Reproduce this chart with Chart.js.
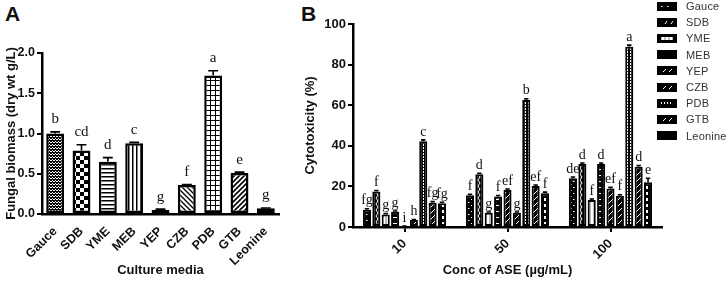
<!DOCTYPE html>
<html>
<head>
<meta charset="utf-8">
<script src="https://cdn.jsdelivr.net/npm/chart.js@4"></script>
<style>
body{margin:0;background:#fff;width:726px;height:282px;overflow:hidden;position:relative;font-family:"Liberation Sans",Arial,sans-serif;}
#wa{position:absolute;left:0;top:0;width:290px;height:282px;}
#wb{position:absolute;left:290px;top:0;width:436px;height:282px;}
.tag{position:absolute;font-weight:bold;font-size:21px;color:#111;}
#legend{position:absolute;left:657px;top:-2px;}
.row{display:flex;align-items:center;height:16.2px;font-size:11px;color:#333;letter-spacing:0.2px;}
.row canvas{margin-right:9px;}
</style>
</head>
<body>
<div class="tag" style="left:5px;top:2px;">A</div>
<div class="tag" style="left:301px;top:2px;">B</div>
<div id="wa"><canvas id="chartA"></canvas></div>
<div id="wb"><canvas id="chartB"></canvas></div>
<div id="legend"></div>
<script>
// panel A
var mediaA = ["Gauce","SDB","YME","MEB","YEP","CZB","PDB","GTB","Leonine"];
var biomass = [1.0, 0.79, 0.65, 0.88, 0.05, 0.36, 1.72, 0.51, 0.07];
var biomassErr = [0.02, 0.07, 0.05, 0.01, 0.01, 0.005, 0.06, 0.01, 0.005];
var biomassLetters = ["b","cd","d","c","g","f","a","e","g"];

// panel B
var conc = ["10","50","100"];
var cytoGauce = [8.5, 15.6, 24];
var cytoSDB = [17.5, 26, 31];
var cytoYME = [6.2, 7, 13.3];
var cytoMEB = [7.5, 15, 31];
var cytoYEP = [0.3, 18.2, 19];
var cytoCZB = [3.4, 7, 15.4];
var cytoPDB = [42.3, 62.6, 88.8];
var cytoGTB = [12, 20.2, 29.7];
var cytoLeonine = [11.7, 16.6, 22];
var errGauce = [0.5, 0.5, 0.6];
var errSDB = [0.5, 0.5, 0.5];
var errYME = [0.4, 0.4, 0.5];
var errMEB = [0.4, 0.5, 0.5];
var errYEP = [0.2, 0.5, 0.5];
var errCZB = [0.3, 0.4, 0.5];
var errPDB = [0.6, 0.6, 0.8];
var errGTB = [0.5, 0.5, 0.6];
var errLeonine = [0.5, 0.6, 2];
var letGauce = ["fg","f","de"];
var letSDB = ["f","d","d"];
var letYME = ["g","g","f"];
var letMEB = ["g","f","d"];
var letYEP = ["i","ef","ef"];
var letCZB = ["h","g","f"];
var letPDB = ["c","b","a"];
var letGTB = ["fg","ef","d"];
var letLeonine = ["fg","f","e"];

function makePattern(kind){
    var c = document.createElement("canvas");
    var s = 6;
    var g;
    if(kind=="fineCheck"){ s=3; }
    if(kind=="check"){ s=8; }
    if(kind=="hstripe" || kind=="vstripe"){ s=4; }
    if(kind=="grid"){ s=5; }
    if(kind=="diagDown" || kind=="diagUp"){ s=5; }
    if(kind=="diagUp2"){ s=7; }
    c.width = s; c.height = s;
    g = c.getContext("2d");
    var dark = kind.indexOf("B_")==0;
    g.fillStyle = dark ? "#000" : "#fff";
    g.fillRect(0,0,s,s);
    g.fillStyle = "#000";
    g.strokeStyle = "#000";
    switch(kind){
        case "fineCheck":
            g.fillRect(0,0,1,1); g.fillRect(2,0,1,1); g.fillRect(1,1,1,1); g.fillRect(0,2,1,1); g.fillRect(2,2,1,1);
            g.fillRect(1,2,1,1);
            break;
        case "check":
            g.fillRect(0,0,4,4); g.fillRect(4,4,4,4);
            break;
        case "hstripe":
            g.fillRect(0,0,s,1.5);
            break;
        case "vstripe":
            g.fillRect(0,0,1.5,s);
            break;
        case "dots":
            g.fillRect(0,0,2,2); g.fillRect(3,3,2,2);
            break;
        case "grid":
            g.fillRect(0,0,s,1); g.fillRect(0,0,1,s);
            break;
        case "diagDown":
            g.lineWidth = 1.3;
            g.beginPath(); g.moveTo(-1,-1); g.lineTo(s+1,s+1); g.moveTo(-1,s-1); g.lineTo(1,s+1); g.moveTo(s-1,-1); g.lineTo(s+1,1); g.stroke();
            break;
        case "diagUp":
        case "diagUp2":
            g.lineWidth = 1.6;
            g.beginPath(); g.moveTo(-1,s+1); g.lineTo(s+1,-1); g.moveTo(-1,1); g.lineTo(1,-1); g.moveTo(s-1,s+1); g.lineTo(s+1,s-1); g.stroke();
            break;
        default:
            // dark panel B fills, white marks on black
            g.fillStyle = "#fff";
            g.strokeStyle = "#fff";
            if(kind=="B_dots"){ g.fillRect(1,1,1.5,1); g.fillRect(4,4,1.5,1); }
            if(kind=="B_wave"){ g.lineWidth=1; g.beginPath(); g.moveTo(2,0); g.lineTo(4,3); g.lineTo(2,6); g.stroke(); }
            if(kind=="B_dash"){ g.fillRect(1,1,4,1); }
            if(kind=="B_diag"){ g.lineWidth=1; g.beginPath(); g.moveTo(0,6); g.lineTo(6,0); g.stroke(); }
            if(kind=="B_grid"){ g.fillRect(1,0,1,2); g.fillRect(4,0,1,2); g.fillRect(1,3,1,2); g.fillRect(4,3,1,2); }
            if(kind=="B_vdash"){ g.fillRect(2,0,2,3); }
    }
    return g.createPattern(c,"repeat");
}

var patA = ["fineCheck","check","hstripe","vstripe","dots","diagDown","grid","diagUp","diagUp2"].map(makePattern);

var black = "#000";
var fontBold = {family:"'Liberation Sans', Arial, sans-serif", weight:"bold"};

var errorBars = {
    id:"errorBars",
    afterDatasetsDraw: function(chart){
        var ctx = chart.ctx;
        var y = chart.scales.y;
        chart.data.datasets.forEach(function(ds, di){
            var meta = chart.getDatasetMeta(di);
            meta.data.forEach(function(bar, i){
                var v = ds.data[i], e = ds.errs[i];
                var yt = y.getPixelForValue(v+e);
                var w = Math.max(bar.width*0.55, 4);
                ctx.save();
                ctx.strokeStyle = black;
                ctx.lineWidth = 1.6;
                ctx.beginPath();
                ctx.moveTo(bar.x, bar.y); ctx.lineTo(bar.x, yt);
                ctx.moveTo(bar.x-w/2, yt); ctx.lineTo(bar.x+w/2, yt);
                ctx.stroke();
                ctx.fillStyle = "#111";
                ctx.font = ds.letterFont;
                ctx.textAlign = "center";
                ctx.textBaseline = "bottom";
                ctx.fillText(ds.letters[i], bar.x, yt - ds.letterGap);
                ctx.restore();
            });
        });
    }
};

function drawA(){
    var ctx = document.getElementById("chartA").getContext("2d");
    new Chart(ctx, {
        type:"bar",
        data:{
            labels: mediaA,
            datasets:[{
                data: biomass,
                errs: biomassErr,
                letters: biomassLetters,
                letterFont: "15px 'Liberation Serif', 'Times New Roman', serif",
                letterGap: 5,
                backgroundColor: patA,
                borderColor: black,
                borderWidth: 2.5,
                borderSkipped: false,
                categoryPercentage: 1,
                barPercentage: 0.68
            }]
        },
        options:{
            responsive:true,
            maintainAspectRatio:false,
            animation:false,
            layout:{padding:{top:53, right:11, left:0, bottom:0}},
            plugins:{legend:{display:false}, tooltip:{enabled:false}},
            scales:{
                x:{
                    grid:{display:false},
                    border:{color:black, width:2.5},
                    ticks:{color:"#111", font:Object.assign({size:12.5}, fontBold), minRotation:45, maxRotation:45, padding:2},
                    title:{display:true, text:"Culture media", color:"#111", font:Object.assign({size:13}, fontBold), padding:{top:2}},
                    afterFit:function(s){ s.height = 68; }
                },
                y:{
                    min:0, max:2.0,
                    grid:{drawOnChartArea:false, color:black, lineWidth:2, tickLength:5},
                    border:{color:black, width:2.5},
                    ticks:{stepSize:0.5, color:"#111", font:Object.assign({size:12.5}, fontBold), padding:2,
                        callback:function(v){ return v.toFixed(1); }},
                    title:{display:true, text:"Fungal biomass (dry wt g/L)", color:"#111", font:Object.assign({size:13}, fontBold), padding:{bottom:2}},
                    afterFit:function(s){ s.width = 42; }
                }
            }
        },
        plugins:[errorBars]
    });
}

var mediaB = ["Gauce","SDB","YME","MEB","YEP","CZB","PDB","GTB","Leonine"];
var valsB = [cytoGauce, cytoSDB, cytoYME, cytoMEB, cytoYEP, cytoCZB, cytoPDB, cytoGTB, cytoLeonine];
var errsB = [errGauce, errSDB, errYME, errMEB, errYEP, errCZB, errPDB, errGTB, errLeonine];
var letsB = [letGauce, letSDB, letYME, letMEB, letYEP, letCZB, letPDB, letGTB, letLeonine];
var patKindsB = ["B_dots","B_wave","light","B_dash","B_diag","B_diag","B_grid","B_diag","B_vdash"];

function fillB(kind){
    if(kind=="light"){
        var c = document.createElement("canvas"); c.width=4; c.height=4;
        var g = c.getContext("2d");
        g.fillStyle="#bbb"; g.fillRect(0,0,4,4);
        g.fillStyle="#fff"; g.fillRect(1,0,2,4);
        return g.createPattern(c,"repeat");
    }
    return makePattern(kind);
}

function drawB(){
    var ctx = document.getElementById("chartB").getContext("2d");
    var sets = mediaB.map(function(m, i){
        return {
            label: m,
            data: valsB[i],
            errs: errsB[i],
            letters: letsB[i],
            letterFont: "14px 'Liberation Serif', 'Times New Roman', serif",
            letterGap: 1,
            backgroundColor: fillB(patKindsB[i]),
            borderColor: black,
            borderWidth: 2,
            borderSkipped: false,
            categoryPercentage: 0.82,
            barPercentage: 0.86
        };
    });
    new Chart(ctx, {
        type:"bar",
        data:{labels: conc, datasets: sets},
        options:{
            responsive:true,
            maintainAspectRatio:false,
            animation:false,
            layout:{padding:{top:24, right:64, left:9, bottom:0}},
            plugins:{legend:{display:false}, tooltip:{enabled:false}},
            scales:{
                x:{
                    grid:{drawOnChartArea:false, color:black, lineWidth:2, tickLength:5, offset:false},
                    border:{color:black, width:2.5},
                    ticks:{color:"#111", font:Object.assign({size:13}, fontBold), minRotation:45, maxRotation:45, padding:4},
                    title:{display:true, text:"Conc of ASE (\u00b5g/mL)", color:"#111", font:Object.assign({size:13}, fontBold), padding:{top:0}},
                    afterFit:function(s){ s.height = 55; }
                },
                y:{
                    min:0, max:100,
                    grid:{drawOnChartArea:false, color:black, lineWidth:2, tickLength:5},
                    border:{color:black, width:2.5},
                    ticks:{stepSize:20, color:"#111", font:Object.assign({size:13}, fontBold), padding:2},
                    title:{display:true, text:"Cytotoxicity (%)", color:"#111", font:Object.assign({size:13}, fontBold), padding:{bottom:4}},
                    afterFit:function(s){ s.width = 54; }
                }
            }
        },
        plugins:[errorBars]
    });

    // legend
    var lg = document.getElementById("legend");
    mediaB.forEach(function(m, i){
        var row = document.createElement("div");
        row.className = "row";
        var sw = document.createElement("canvas");
        sw.width = 20; sw.height = 9;
        var g = sw.getContext("2d");
        g.fillStyle = "#000"; g.fillRect(0,0,20,9);
        g.fillStyle = fillB(patKindsB[i]);
        g.fillRect(4,3,12,3);
        row.appendChild(sw);
        var t = document.createElement("span");
        t.textContent = m;
        row.appendChild(t);
        lg.appendChild(row);
    });
}

window.onload = function(){
    drawA();
    drawB();
}
</script>
</body>
</html>
